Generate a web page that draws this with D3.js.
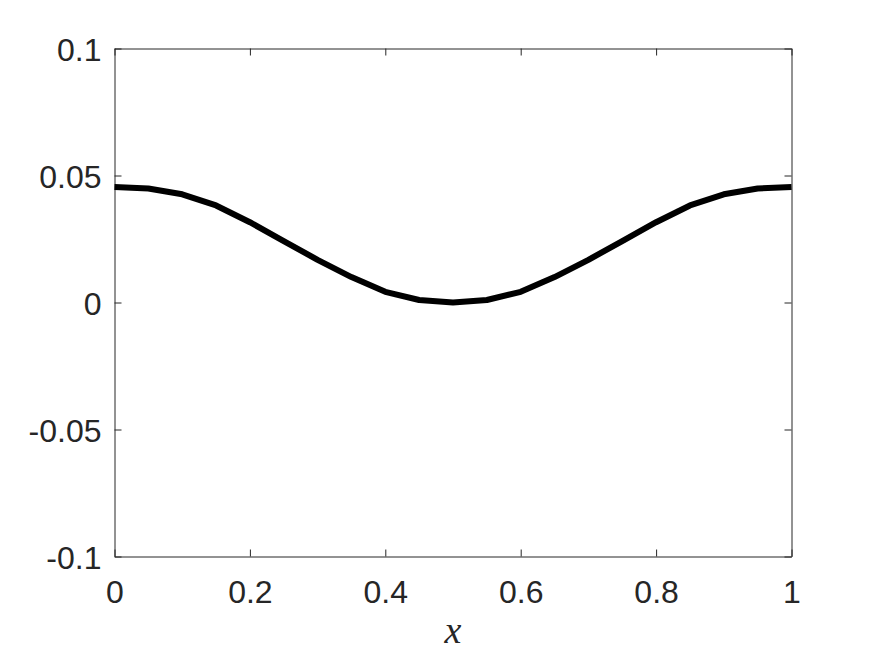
<!DOCTYPE html>
<html>
<head>
<meta charset="utf-8">
<script src="https://cdn.jsdelivr.net/npm/d3@7"></script>
<style>
  html, body { margin: 0; padding: 0; background: #fff; }
  svg { display: block; }
</style>
</head>
<body>
<svg id="chart" width="875" height="656"></svg>
<script>
const xValues = [0, 0.05, 0.1, 0.15, 0.2, 0.25, 0.3, 0.35, 0.4, 0.45, 0.5, 0.55, 0.6, 0.65, 0.7, 0.75, 0.8, 0.85, 0.9, 0.95, 1];
const yValues = [0.0455, 0.0449, 0.0426, 0.0382, 0.0316, 0.0242, 0.0168, 0.0100, 0.0042, 0.0010, 0.0000, 0.0010, 0.0042, 0.0100, 0.0168, 0.0242, 0.0316, 0.0382, 0.0426, 0.0449, 0.0455];
const xTicks = [0, 0.2, 0.4, 0.6, 0.8, 1];
const yTicks = [-0.1, -0.05, 0, 0.05, 0.1];
const xTickLabels = ["0", "0.2", "0.4", "0.6", "0.8", "1"];
const yTickLabels = ["-0.1", "-0.05", "0", "0.05", "0.1"];
const xLabel = "x";

const svg = d3.select("#chart");
const L = 114.5, R = 791.5, T = 48.5, B = 556.5;
const axisColor = "#262626";

const x = d3.scaleLinear().domain([0, 1]).range([L, R]);
const y = d3.scaleLinear().domain([-0.1, 0.1]).range([B, T]);

const tickLen = 7;
const fontFam = "'Liberation Sans', Arial, Helvetica, sans-serif";
const fontSize = 32;

// bottom axis
const gB = svg.append("g").attr("transform", `translate(0,${B})`)
  .call(d3.axisBottom(x).tickValues(xTicks).tickSizeInner(-tickLen).tickSizeOuter(0)
    .tickFormat((d, i) => xTickLabels[i]));
// top axis (ticks only)
const gT = svg.append("g").attr("transform", `translate(0,${T})`)
  .call(d3.axisTop(x).tickValues(xTicks).tickSizeInner(-tickLen).tickSizeOuter(0).tickFormat(""));
// left axis
const gL = svg.append("g").attr("transform", `translate(${L},0)`)
  .call(d3.axisLeft(y).tickValues(yTicks).tickSizeInner(-tickLen).tickSizeOuter(0).tickPadding(13)
    .tickFormat((d, i) => yTickLabels[i]));
// right axis
const gR = svg.append("g").attr("transform", `translate(${R},0)`)
  .call(d3.axisRight(y).tickValues(yTicks).tickSizeInner(-tickLen).tickSizeOuter(0).tickFormat(""));

[gB, gT, gL, gR].forEach(g => {
  g.selectAll(".domain").attr("stroke", axisColor).attr("stroke-width", 1);
  g.selectAll(".tick line").attr("stroke", axisColor).attr("stroke-width", 1);
  g.selectAll("text").attr("fill", axisColor).attr("font-family", fontFam).attr("font-size", fontSize);
});
gB.selectAll(".tick text").attr("y", 46).attr("dy", 0);
gL.selectAll(".tick text").attr("dy", "0.36em");

// data line
const line = d3.line().x((d, i) => x(xValues[i])).y(d => y(d));
svg.append("path")
  .datum(yValues)
  .attr("d", line)
  .attr("fill", "none")
  .attr("stroke", "#000")
  .attr("stroke-width", 6)
  .attr("stroke-linejoin", "round");

// x label
svg.append("text")
  .attr("x", (L + R) / 2)
  .attr("y", 643)
  .attr("text-anchor", "middle")
  .attr("font-family", "'Liberation Serif', 'DejaVu Serif', serif")
  .attr("font-style", "italic")
  .attr("font-size", 38)
  .attr("fill", axisColor)
  .text(xLabel);
</script>
</body>
</html>
